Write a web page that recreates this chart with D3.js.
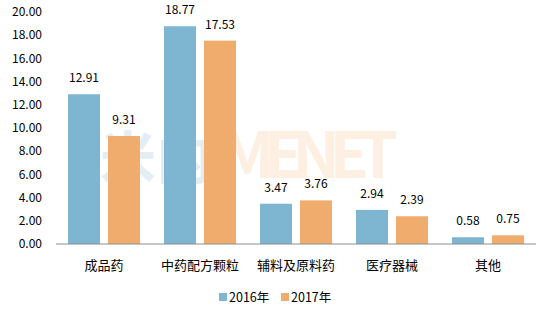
<!DOCTYPE html>
<html>
<head>
<meta charset="utf-8">
<script src="https://cdn.jsdelivr.net/npm/d3@7"></script>
<style>
  body { margin: 0; background: #fff; }
  svg { font-family: "Noto Sans CJK SC", "Noto Sans", sans-serif; }
</style>
</head>
<body>
<svg id="chart"></svg>
<script>
const categories = ["成品药", "中药配方颗粒", "辅料及原料药", "医疗器械", "其他"];
const seriesNames = ["2016年", "2017年"];
const values2016 = [12.91, 18.77, 3.47, 2.94, 0.58];
const values2017 = [9.31, 17.53, 3.76, 2.39, 0.75];
const yTicks = [0, 2, 4, 6, 8, 10, 12, 14, 16, 18, 20];
const colors = ["#7EB6D1", "#F0AC6C"];

const width = 545, height = 312;
const margin = {top: 12, right: 9, bottom: 68, left: 56};

const svg = d3.select("#chart")
    .attr("width", width)
    .attr("height", height);

const x0 = d3.scaleBand()
    .domain(categories)
    .range([margin.left, width - margin.right])
    .padding(0);

const x1 = d3.scaleBand()
    .domain(seriesNames)
    .range([12, x0.bandwidth() - 12])
    .paddingInner(0.2);

const y = d3.scaleLinear()
    .domain([0, 20])
    .range([height - margin.bottom, margin.top]);

// watermark
const wm = svg.append("g").attr("opacity", 0.13);
wm.append("text")
    .attr("x", 100).attr("y", 178)
    .attr("fill", "#2a7fb0")
    .style("font-size", "56px").style("font-weight", "bold")
    .text("米内");
wm.append("text")
    .attr("x", 220).attr("y", 178)
    .attr("fill", "#f08a2c")
    .style("font-size", "64px").style("font-weight", "bold")
    .attr("textLength", 178)
    .text("MENET");

// y axis labels
svg.append("g")
    .selectAll("text")
    .data(yTicks)
    .join("text")
    .attr("x", 42)
    .attr("y", d => y(d))
    .attr("dy", "0.35em")
    .attr("text-anchor", "end")
    .style("font-size", "12px")
    .attr("fill", "#000")
    .text(d => d.toFixed(2));

const data = categories.map((c, i) => ({cat: c, vals: [values2016[i], values2017[i]]}));

const groups = svg.append("g")
    .selectAll("g")
    .data(data)
    .join("g")
    .attr("transform", d => `translate(${x0(d.cat)},0)`);

groups.selectAll("rect")
    .data(d => d.vals.map((v, j) => ({s: seriesNames[j], v, j})))
    .join("rect")
    .attr("x", d => x1(d.s))
    .attr("y", d => y(d.v))
    .attr("width", x1.bandwidth())
    .attr("height", d => y(0) - y(d.v))
    .attr("fill", d => colors[d.j]);

groups.selectAll("text.val")
    .data(d => d.vals.map((v, j) => ({s: seriesNames[j], v, j})))
    .join("text")
    .attr("class", "val")
    .attr("x", d => x1(d.s) + x1.bandwidth() / 2)
    .attr("y", d => y(d.v) - 12)
    .attr("text-anchor", "middle")
    .style("font-size", "12px")
    .attr("fill", "#000")
    .text(d => d.v.toFixed(2));

// baseline
svg.append("line")
    .attr("x1", margin.left).attr("x2", width - margin.right)
    .attr("y1", y(0)).attr("y2", y(0))
    .attr("stroke", "#8c8c8c").attr("stroke-width", 1);

// category labels
svg.append("g")
    .selectAll("text")
    .data(categories)
    .join("text")
    .attr("x", d => x0(d) + x0.bandwidth() / 2)
    .attr("y", 270)
    .attr("text-anchor", "middle")
    .style("font-size", "13px")
    .attr("fill", "#000")
    .text(d => d);

// legend
const legend = svg.append("g").attr("transform", "translate(219,298)");
const legendX = [0, 62];
seriesNames.forEach((s, i) => {
    legend.append("rect")
        .attr("x", legendX[i]).attr("y", -5)
        .attr("width", 8).attr("height", 8)
        .attr("fill", colors[i]);
    legend.append("text")
        .attr("x", legendX[i] + 10).attr("y", 0)
        .attr("dy", "0.35em")
        .style("font-size", "12.5px")
        .attr("fill", "#000")
        .text(s);
});
</script>
</body>
</html>
